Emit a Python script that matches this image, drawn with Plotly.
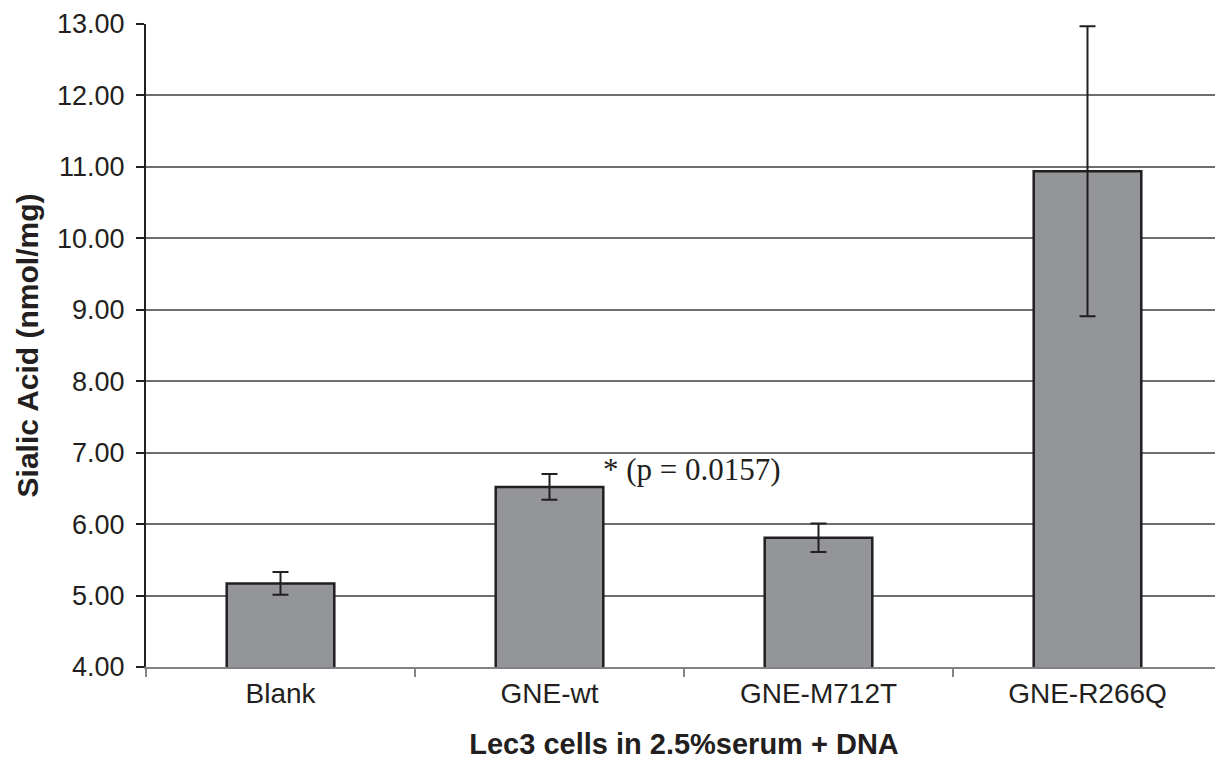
import plotly.graph_objects as go

categories = ["Blank", "GNE-wt", "GNE-M712T", "GNE-R266Q"]
values = [5.17, 6.52, 5.81, 10.94]
errors = [0.16, 0.18, 0.20, 2.03]
y_ticks = [4, 5, 6, 7, 8, 9, 10, 11, 12, 13]
annotation_text = "* (p = 0.0157)"

fig = go.Figure()
fig.add_trace(go.Bar(
    x=categories,
    y=values,
    width=0.4,
    marker=dict(color="#939598", line=dict(color="#231f20", width=2.5)),
    error_y=dict(type="data", array=errors, visible=True,
                 color="#231f20", thickness=2, width=8),
))

fig.add_annotation(
    x=1.19, y=6.76, xref="x", yref="y",
    text=annotation_text, showarrow=False, xanchor="left", yanchor="middle",
    font=dict(family="Liberation Serif", size=31, color="#231f20"),
)

fig.update_layout(
    width=1215, height=768,
    margin=dict(l=138, r=1, t=16, b=109),
    plot_bgcolor="white", paper_bgcolor="white",
    showlegend=False,
    font=dict(family="Liberation Sans", color="#231f20"),
)
fig.update_yaxes(
    range=[4, 13],
    tickvals=y_ticks,
    tickformat=".2f",
    tickfont=dict(size=27, color="#231f20"),
    ticklabeloverflow="allow",
    ticklabelstandoff=6,
    automargin="left+right",
    showgrid=True, gridcolor="#6d6e71", gridwidth=1.5,
    showline=True, linecolor="#231f20", linewidth=2,
    ticks="outside", ticklen=8, tickcolor="#231f20", tickwidth=1.5,
    zeroline=False,
    title=dict(text="<b>Sialic Acid (nmol/mg)</b>", font=dict(size=30, color="#231f20"), standoff=10),
)
fig.update_xaxes(
    tickfont=dict(size=28, color="#231f20"),
    showline=True, linecolor="#808285", linewidth=2,
    ticks="outside", ticklen=8, tickcolor="#808285", tickwidth=1.5,
    tickson="boundaries",
    showgrid=False,
    title=dict(text="<b>Lec3 cells in 2.5%serum + DNA</b>", font=dict(size=29, color="#231f20"), standoff=26),
)

fig.write_html("out.html")
